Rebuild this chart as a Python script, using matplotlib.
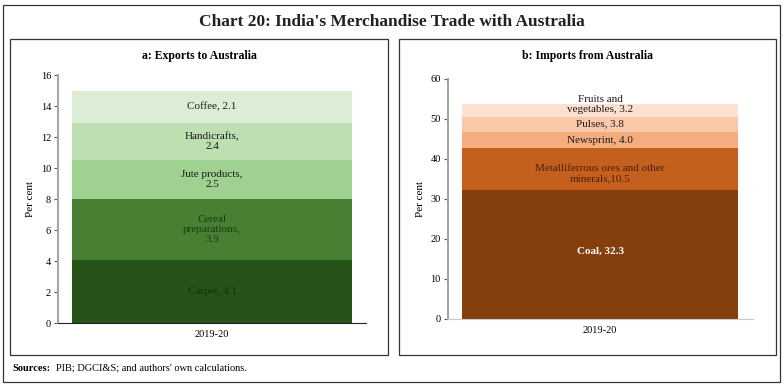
import matplotlib.pyplot as plt
from matplotlib.patches import Rectangle

plt.rcParams['font.family'] = ['Liberation Serif', 'DejaVu Serif']

year = ['2019-20']

exp_labels = ['Carpet, 4.1', 'Cereal\npreparations,\n3.9', 'Jute products,\n2.5',
              'Handicrafts,\n2.4', 'Coffee, 2.1']
exp_values = [4.1, 3.9, 2.5, 2.4, 2.1]
exp_colors = ['#275218', '#477f33', '#9fd291', '#bddfb1', '#dbedd4']
exp_text = ['#17300e', '#1e3a14', '#1a1a1a', '#1a1a1a', '#1a1a1a']

imp_labels = ['Coal, 32.3', 'Metalliferrous ores and other\nminerals,10.5', 'Newsprint, 4.0',
              'Pulses, 3.8', 'Fruits and\nvegetables, 3.2']
imp_values = [32.3, 10.5, 4.0, 3.8, 3.2]
imp_colors = ['#843f0c', '#c55f1e', '#f4ad7e', '#f8c8a8', '#fde0cf']
imp_text = ['white', '#4a2008', '#1a1a1a', '#1a1a1a', '#1a1a1a']
imp_offsets = [0.8, -1.3, -0.3, 0.0, 1.4]

fig = plt.figure(figsize=(7.84, 3.87), dpi=100)

# outer frame and panel frames
fig.patches.append(Rectangle((0.004, 0.013), 0.991, 0.974, transform=fig.transFigure,
                             fill=False, lw=0.9, ec='#333333'))
fig.patches.append(Rectangle((0.013, 0.083), 0.482, 0.815, transform=fig.transFigure,
                             fill=False, lw=0.9, ec='#333333'))
fig.patches.append(Rectangle((0.509, 0.083), 0.481, 0.815, transform=fig.transFigure,
                             fill=False, lw=0.9, ec='#333333'))

fig.text(0.5, 0.942, "Chart 20: India's Merchandise Trade with Australia",
         ha='center', va='center', fontsize=12.5, fontweight='bold', color='#222222')
fig.text(0.254, 0.855, 'a: Exports to Australia', ha='center', va='center',
         fontsize=8.5, fontweight='bold')
fig.text(0.75, 0.855, 'b: Imports from Australia', ha='center', va='center',
         fontsize=8.5, fontweight='bold')
fig.text(0.016, 0.049, 'Sources:', ha='left', va='center', fontsize=7.5, fontweight='bold')
fig.text(0.072, 0.049, "PIB; DGCI&S; and authors' own calculations.", ha='left',
         va='center', fontsize=7.5)


def stacked(ax, values, labels, colors, tcolors, offsets, ymax, step, bottom_color):
    base = 0
    for v, lab, c, tc, off in zip(values, labels, colors, tcolors, offsets):
        ax.bar(year, [v], bottom=[base], width=0.906, color=c)
        ax.text(0, base + v / 2 + off, lab, ha='center', va='center', fontsize=8,
                color=tc, linespacing=1.15,
                fontweight='bold' if tc == 'white' else 'normal')
        base += v
    ax.set_xlim(-0.5, 0.5)
    ax.set_ylim(0, ymax)
    ax.set_yticks(range(0, ymax + 1, step))
    ax.set_ylabel('Per cent', fontsize=8)
    for s in ['top', 'right']:
        ax.spines[s].set_visible(False)
    ax.spines['left'].set_color('#a6a6a6')
    ax.spines['left'].set_linewidth(1.5)
    ax.spines['bottom'].set_color(bottom_color)
    ax.tick_params(axis='y', labelsize=7.5, length=3, color='#555555', pad=2)
    ax.tick_params(axis='x', labelsize=7.5, length=0, pad=5)


ax1 = fig.add_axes([0.074, 0.165, 0.393, 0.641])
stacked(ax1, exp_values, exp_labels, exp_colors, exp_text, [0, 0, 0, 0, 0], 16, 2, '#222222')

ax2 = fig.add_axes([0.571, 0.176, 0.389, 0.620])
stacked(ax2, imp_values, imp_labels, imp_colors, imp_text, imp_offsets, 60, 10, '#c8c8c8')

fig.savefig('out.png', dpi=100)
